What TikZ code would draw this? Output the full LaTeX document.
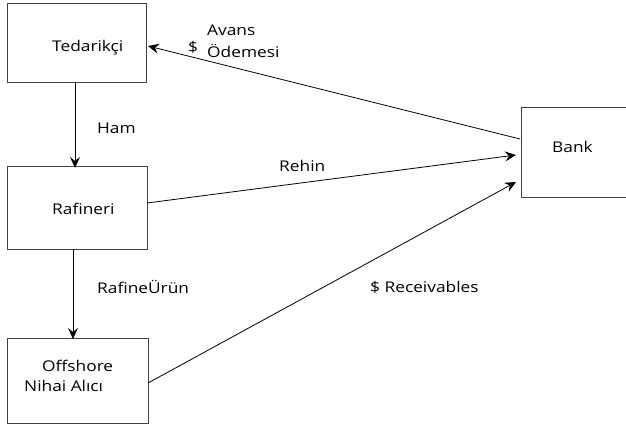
\documentclass[tikz,border=0pt]{standalone}
\usepackage{fontspec}
\setmainfont{Open Sans}[FakeStretch=1.17]
\usetikzlibrary{arrows.meta}
\begin{document}
\begin{tikzpicture}[x=1pt,y=-1pt,
  box/.style={draw=black!75,line width=0.9pt,inner sep=0pt},
  flow/.style={draw=black,line width=0.8pt,-{Stealth[length=11pt,width=10pt,inset=4pt]}},
  lbl/.style={font=\fontsize{14.8}{18}\selectfont,inner sep=0pt,anchor=west}]
\useasboundingbox (0,0) rectangle (626,425);
% boxes
\node[box,minimum width=139pt,minimum height=79pt] (ted) at (77,43) {};
\node[box,minimum width=140pt,minimum height=83pt] (raf) at (77,207.5) {};
\node[box,minimum width=141pt,minimum height=85pt] (off) at (77.5,380.5) {};
\node[box,minimum width=106pt,minimum height=90pt] (bank) at (574,152) {};
% box texts
\node[lbl] at (52,48) {Tedarikçi};
\node[lbl] at (52,209) {Rafineri};
\node[lbl] at (42,366) {Offshore};
\node[lbl] at (24,386) {Nihai Alıcı};
\node[lbl] at (552,147) {Bank};
% connector end points
\coordinate (t1) at (75,82.5);
\coordinate (r1) at (75,168);
\coordinate (r2) at (73,249);
\coordinate (o1) at (73,339);
\coordinate (bk1) at (520,139);
\coordinate (tk1) at (148,46);
\coordinate (r3) at (147,203);
\coordinate (bk2) at (516,155);
\coordinate (o2) at (148,383);
\coordinate (bk3) at (516,182);
% connectors
\draw[flow] (t1) -- (r1);
\draw[flow] (r2) -- (o1);
\draw[flow] (bk1) -- (tk1);
\draw[flow] (r3) -- (bk2);
\draw[flow] (o2) -- (bk3);
% connector labels
\node[lbl] at (97,128) {Ham};
\node[lbl] at (188,47) {\$};
\node[lbl] at (207,30) {Avans};
\node[lbl] at (207,51) {Ödemesi};
\node[lbl] at (279,166) {Rehin};
\node[lbl] at (97,287) {RafineÜrün};
\node[lbl] at (370,287) {\$ Receivables};
\end{tikzpicture}
\end{document}
